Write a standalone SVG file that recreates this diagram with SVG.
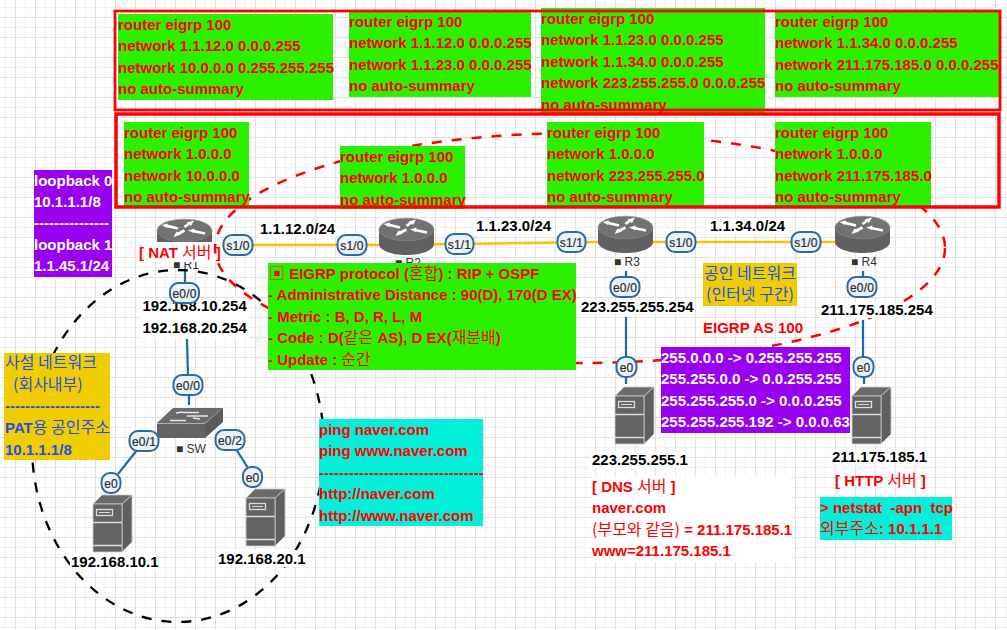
<svg xmlns="http://www.w3.org/2000/svg" width="1007" height="630" viewBox="0 0 1007 630">
<style>
text{font-family:"Liberation Sans","Noto Sans CJK KR",sans-serif;font-size:15px;font-weight:700}
.r{fill:#f00}.w{fill:#fff}.k{fill:#000}.b{fill:#1f50e6}
.n{font-family:"Noto Sans CJK KR","Liberation Sans",sans-serif;font-weight:400;font-size:16px}
.g{fill:#2bf000}.v{fill:#9900f0}.c{fill:#00f0d9}.y{fill:#f0cd00}.bg{fill:#fff}
.pill rect{fill:#e9f3fb;stroke:#33699a;stroke-width:2}
.pill text{font-size:12px;font-weight:400;fill:#2a2a2a;text-anchor:middle;letter-spacing:.2px;stroke:#2a2a2a;stroke-width:.2}
.lbl{font-size:12px;font-weight:400;fill:#333}
.yl{stroke:#ffc000;stroke-width:2.400;fill:none}
.bl{stroke:#1a6aa8;stroke-width:2.200;fill:none}
.box{fill:none;stroke:#f00}
</style>
<defs>
<pattern id="grid" width="20" height="20" patternUnits="userSpaceOnUse" x="5" y="7">
<rect width="20" height="20" fill="#fff"/>
<path d="M0.500 0V20M0 .5H20" stroke="#f0f0f0" fill="none"/>
<path d="M10.500 0V20M0 10.500H20" stroke="#e2e2e2" fill="none"/>
</pattern>
<g id="router">
<path d="M0 11.500V26C0 32 12 37 27.500 37S55 32 55 26V11.500z" fill="#606060"/>
<ellipse cx="27.500" cy="11.500" rx="27.500" ry="11.300" fill="#727272" stroke="#8c8c8c" stroke-width=".6"/>
<path d="M4.500 6L11 4.500 10 9zM37 1.500L34 7 29.500 3.500zM31 11.500L37.500 9.500 37 14zM16.500 18L19.500 12.500 24 15.500z" fill="#fff"/>
<path d="M10 6.800L21 9.500M31.500 5L27.500 8M36 12L48 14.500M21.500 14.500L27.500 11.500" stroke="#fff" stroke-width="2.800" fill="none"/>
</g>
<g id="server">
<path d="M0 9L9 0H39L29 9z" fill="#6a6a6a" stroke="#ccc" stroke-width=".8"/>
<path d="M29 9L39 0V47L29 57z" fill="#5f5f5f" stroke="#ccc" stroke-width=".8"/>
<rect y="9" width="29" height="48" fill="#636363" stroke="#ccc" stroke-width=".8"/>
<path d="M0 27.500H29M0 50.500H29" stroke="#ddd" stroke-width="1.500"/>
<rect x="3.500" y="14.500" width="16" height="6" fill="none" stroke="#ddd" stroke-width="1.300"/>
<path d="M6 17.500H17" stroke="#ddd"/>
</g>
</defs>
<rect width="1007" height="630" fill="url(#grid)"/>

<g id="connectors">
<path class="yl" d="M222 245H400M420 244.500L600 242M640 242H835"/>
<path class="bl" d="M185 270V284M187 339L188 376M189 394V405M137 450L118 474M236 449L248 468M626 271V278M626 317V358M626 376V384M863 271V278M863 320V358M864 376V384"/>
</g>

<g id="R1"><use href="#router" x="157" y="219"/><text class="lbl" x="173" y="269">■ R1</text></g>
<g id="nat-label"><rect class="bg" x="137" y="242" width="85" height="20"/><text class="r" x="139" y="258">[ NAT <tspan class="n">서버</tspan> ]</text></g>
<g id="R2"><use href="#router" x="379" y="218"/><text class="lbl" x="395" y="267">■ R2</text></g>
<g id="R3"><use href="#router" x="598" y="216"/><text class="lbl" x="614" y="266">■ R3</text></g>
<g id="R4"><use href="#router" x="835" y="216"/><text class="lbl" x="851" y="266">■ R4</text></g>

<g id="networks">
<ellipse cx="178" cy="446" rx="146" ry="176" fill="none" stroke="#000" stroke-width="2.300" stroke-dasharray="10 10"/>
<ellipse cx="580" cy="248" rx="365" ry="115" fill="none" stroke="#f00" stroke-width="2.500" stroke-dasharray="10 10"/>
</g>

<g id="link-labels">
<rect class="bg" x="258" y="222" width="78" height="16"/><text class="k" x="260" y="234">1.1.12.0/24</text>
<rect class="bg" x="474" y="219" width="78" height="16"/><text class="k" x="476" y="231">1.1.23.0/24</text>
<rect class="bg" x="708" y="219" width="78" height="16"/><text class="k" x="710" y="231">1.1.34.0/24</text>
</g>

<g id="cfg-r1"><rect class="g" x="118" y="14" width="215" height="86"/><text class="r" x="118" y="30">router eigrp 100</text><text class="r" x="118" y="51">network 1.1.12.0 0.0.0.255</text><text class="r" x="118" y="73">network 10.0.0.0 0.255.255.255</text><text class="r" x="118" y="94">no auto-summary</text></g>
<g id="cfg-r2"><rect class="g" x="349" y="12" width="182" height="85"/><text class="r" x="349" y="27">router eigrp 100</text><text class="r" x="349" y="48">network 1.1.12.0 0.0.0.255</text><text class="r" x="349" y="70">network 1.1.23.0 0.0.0.255</text><text class="r" x="349" y="91">no auto-summary</text></g>
<g id="cfg-r3"><rect class="g" x="541" y="8" width="224" height="105"/><text class="r" x="541" y="24">router eigrp 100</text><text class="r" x="541" y="45">network 1.1.23.0 0.0.0.255</text><text class="r" x="541" y="67">network 1.1.34.0 0.0.0.255</text><text class="r" x="541" y="88">network 223.255.255.0 0.0.0.255</text><text class="r" x="541" y="110">no auto-summary</text></g>
<g id="cfg-r4"><rect class="g" x="775" y="12" width="224" height="85"/><text class="r" x="775" y="27">router eigrp 100</text><text class="r" x="775" y="48">network 1.1.34.0 0.0.0.255</text><text class="r" x="775" y="70">network 211.175.185.0 0.0.0.255</text><text class="r" x="775" y="91">no auto-summary</text></g>
<g id="cfg2-r1"><rect class="g" x="124" y="122" width="125" height="84"/><text class="r" x="124" y="138">router eigrp 100</text><text class="r" x="124" y="159">network 1.0.0.0</text><text class="r" x="124" y="181">network 10.0.0.0</text><text class="r" x="124" y="202">no auto-summary</text></g>
<g id="cfg2-r2"><rect class="g" x="340" y="146" width="125" height="63"/><text class="r" x="340" y="162">router eigrp 100</text><text class="r" x="340" y="183">network 1.0.0.0</text><text class="r" x="340" y="205">no auto-summary</text></g>
<g id="cfg2-r3"><rect class="g" x="547" y="122" width="157" height="84"/><text class="r" x="547" y="138">router eigrp 100</text><text class="r" x="547" y="159">network 1.0.0.0</text><text class="r" x="547" y="181">network 223.255.255.0</text><text class="r" x="547" y="202">no auto-summary</text></g>
<g id="cfg2-r4"><rect class="g" x="775" y="122" width="156" height="84"/><text class="r" x="775" y="138">router eigrp 100</text><text class="r" x="775" y="159">network 1.0.0.0</text><text class="r" x="775" y="181">network 211.175.185.0</text><text class="r" x="775" y="202">no auto-summary</text></g>

<g id="areas">
<rect class="box" x="115" y="11" width="885" height="99" stroke-width="2.800"/>
<rect class="box" x="116" y="114" width="883" height="93" stroke-width="3.500"/>
</g>

<g id="loopback"><rect class="v" x="34" y="170" width="78" height="107"/><text class="w" x="34" y="186">loopback 0</text><text class="w" x="34" y="207">10.1.1.1/8</text><text class="w" x="34" y="228">---------------</text><text class="w" x="34" y="250">loopback 1</text><text class="w" x="34" y="271">1.1.45.1/24</text></g>

<g id="eigrp-note"><rect class="g" x="268" y="263" width="308" height="107"/>
<text class="r" x="269" y="279"><tspan class="n">▣</tspan> EIGRP protocol (<tspan class="n">혼합</tspan>) : RIP + OSPF</text>
<text class="r" x="268" y="300">- Administrative Distance : 90(D), 170(D EX)</text>
<text class="r" x="268" y="322">- Metric : B, D, R, L, M</text>
<text class="r" x="268" y="343">- Code : D(<tspan class="n">같은</tspan> AS), D EX(<tspan class="n">재분배</tspan>)</text>
<text class="r" x="268" y="365">- Update : <tspan class="n">순간</tspan></text></g>

<g id="public-note"><rect class="y" x="703" y="263" width="94" height="43"/><text class="b n" x="750" y="279" text-anchor="middle">공인 네트워크</text><text class="b n" x="750" y="300" text-anchor="middle">(인터넷 구간)</text></g>

<g id="private-note"><rect class="y" x="4" y="353" width="106" height="107"/><text class="b n" x="5" y="368">사설 네트워크</text><text class="b n" x="13" y="390">(회사내부)</text><text class="b" x="5" y="411">-------------------</text><text class="b" x="5" y="433">PAT<tspan class="n">용 공인주소</tspan></text><text class="b" x="5" y="455">10.1.1.1/8</text></g>

<g id="ping-note"><rect class="c" x="319" y="419" width="164" height="107"/><text class="r" x="319" y="435">ping naver.com</text><text class="r" x="319" y="456">ping www.naver.com</text><text class="r" x="319" y="478">---------------------------------</text><text class="r" x="319" y="499">http://naver.com</text><text class="r" x="319" y="521">http://www.naver.com</text></g>

<g id="as-label"><text class="r" x="703" y="333">EIGRP AS 100</text></g>

<g id="R1-addr"><rect class="bg" x="141" y="300" width="108" height="38"/><text class="k" x="142.500" y="311">192.168.10.254</text><text class="k" x="142.500" y="333">192.168.20.254</text></g>
<g id="R3-addr"><rect class="bg" x="579" y="301" width="116" height="13"/><text class="k" x="581" y="312">223.255.255.254</text></g>
<g id="R4-addr"><rect class="bg" x="819" y="303" width="116" height="15"/><text class="k" x="821" y="315">211.175.185.254</text></g>

<g id="SW">
<path d="M157 423L173 408H223L205 423z" fill="#6a6a6a"/>
<path d="M183 412.500H199M187 416H208M170 420.500H186M176 413l7 -1M200 419l-7 -1" stroke="#e8e8e8" stroke-width="1.500" fill="none"/>
<path d="M205 423.500L223 408V422L205 438z" fill="#5a5a5a"/>
<rect x="157" y="423.500" width="48" height="14.500" fill="#636363"/>
<text class="lbl" x="176" y="453">■ SW</text>
</g>

<g id="PC1"><use href="#server" x="93" y="495"/><rect class="bg" x="70" y="553" width="88" height="17"/><text class="k" x="71" y="567">192.168.10.1</text></g>
<g id="PC2"><use href="#server" x="246" y="489"/><rect class="bg" x="217" y="550" width="88" height="17"/><text class="k" x="218" y="564">192.168.20.1</text></g>
<g id="DNS"><use href="#server" x="615" y="387"/><rect class="bg" x="590" y="452" width="98" height="16"/><text class="k" x="592" y="465">223.255.255.1</text></g>
<g id="HTTP"><use href="#server" x="852" y="387"/><rect class="bg" x="831" y="449" width="96" height="16"/><text class="k" x="832" y="462">211.175.185.1</text></g>

<g id="mask-note"><rect class="v" x="661" y="347" width="189" height="86"/><text class="w" x="661" y="363">255.0.0.0 -&gt; 0.255.255.255</text><text class="w" x="661" y="384">255.255.0.0 -&gt; 0.0.255.255</text><text class="w" x="661" y="406">255.255.255.0 -&gt; 0.0.0.255</text><text class="w" x="661" y="427">255.255.255.192 -&gt; 0.0.0.63</text></g>

<g id="dns-note"><rect class="bg" x="592" y="476" width="201" height="86"/><text class="r" x="592" y="492">[ DNS <tspan class="n">서버</tspan> ]</text><text class="r" x="592" y="513">naver.com</text><text class="r" x="592" y="535"><tspan class="n">(부모와 같음)</tspan> = 211.175.185.1</text><text class="r" x="592" y="556">www=211.175.185.1</text></g>
<g id="http-label"><text class="r" x="835" y="486">[ HTTP <tspan class="n">서버</tspan> ]</text></g>
<g id="netstat-note"><rect class="c" x="820" y="497" width="132" height="43"/><text class="r" x="820" y="513" xml:space="preserve">&gt; netstat  -apn  tcp</text><text class="r" x="820" y="534"><tspan class="n">외부주소</tspan>: 10.1.1.1</text></g>

<g id="ifaces">
<g class="pill"><rect x="223.500" y="235" width="29" height="20" rx="8.500"/><text x="238" y="249.500">s1/0</text></g>
<g class="pill"><rect x="337.500" y="235" width="29" height="20" rx="8.500"/><text x="352" y="249.500">s1/0</text></g>
<g class="pill"><rect x="445.500" y="234" width="28" height="20" rx="8.500"/><text x="459.500" y="248.500">s1/1</text></g>
<g class="pill"><rect x="557.500" y="232" width="28" height="20" rx="8.500"/><text x="571.500" y="246.500">s1/1</text></g>
<g class="pill"><rect x="666.500" y="232" width="29" height="20" rx="8.500"/><text x="681" y="246.500">s1/0</text></g>
<g class="pill"><rect x="791.500" y="232" width="29" height="20" rx="8.500"/><text x="806" y="246.500">s1/0</text></g>
<g class="pill"><rect x="170" y="283" width="29" height="20" rx="8.500"/><text x="184.500" y="297.500">e0/0</text></g>
<g class="pill"><rect x="610.500" y="277" width="29" height="20" rx="8.500"/><text x="625" y="291.500">e0/0</text></g>
<g class="pill"><rect x="847.500" y="277" width="29" height="20" rx="8.500"/><text x="862" y="291.500">e0/0</text></g>
<g class="pill"><rect x="173.500" y="375" width="29" height="20" rx="8.500"/><text x="188" y="389.500">e0/0</text></g>
<g class="pill"><rect x="129.500" y="431" width="29" height="20" rx="8.500"/><text x="144" y="445.500">e0/1</text></g>
<g class="pill"><rect x="215.500" y="430" width="29" height="20" rx="8.500"/><text x="230" y="444.500">e0/2</text></g>
<g class="pill"><rect x="101.500" y="473" width="19" height="20" rx="8.500"/><text x="111" y="487.500">e0</text></g>
<g class="pill"><rect x="243" y="467" width="19" height="20" rx="8.500"/><text x="252.500" y="481.500">e0</text></g>
<g class="pill"><rect x="616.500" y="357" width="20" height="20" rx="8.500"/><text x="626.500" y="371.500">e0</text></g>
<g class="pill"><rect x="853.500" y="357" width="20" height="20" rx="8.500"/><text x="863.500" y="371.500">e0</text></g>
</g>
</svg>
